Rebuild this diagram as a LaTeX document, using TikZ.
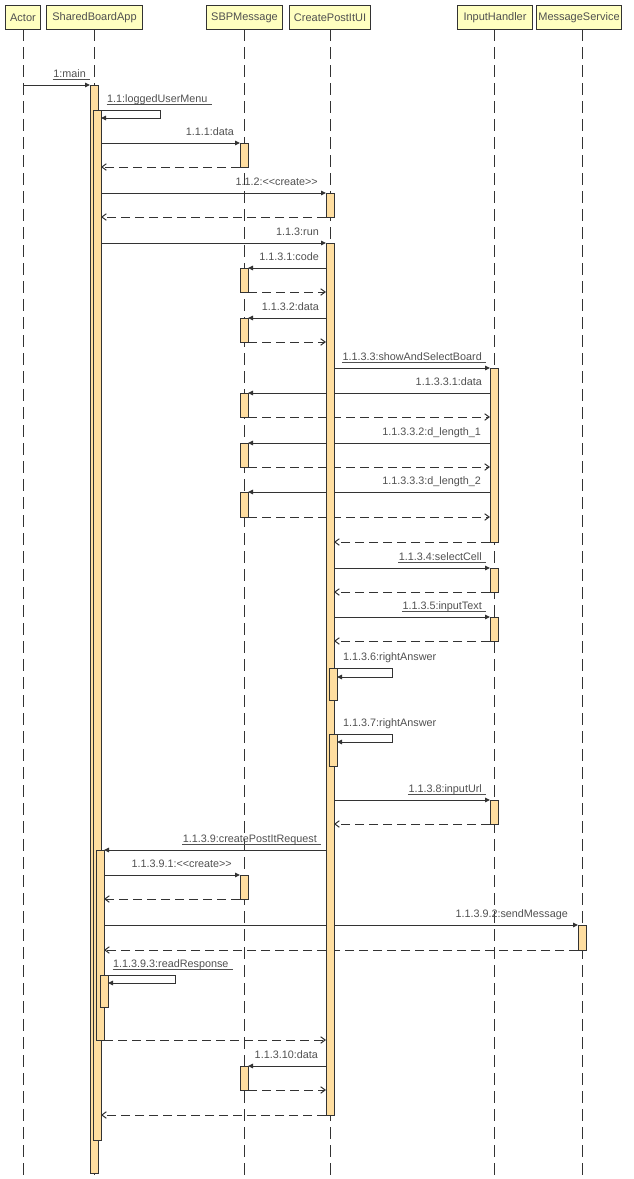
\documentclass[tikz,border=0pt]{standalone}
\usepackage{fontspec}
\setmainfont{Liberation Sans}
\usetikzlibrary{arrows.meta}
\definecolor{ln}{RGB}{51,51,51}
\definecolor{txt}{RGB}{80,80,80}
\definecolor{hdr}{RGB}{255,255,192}
\definecolor{barf}{RGB}{255,222,160}
\newcommand{\crt}{\textless\kern0pt\textless create\textgreater\kern0pt\textgreater}
\begin{document}
\begin{tikzpicture}[x=1pt,y=-1pt,
  head/.style={draw=ln, fill=hdr, line width=1pt, inner sep=0pt, minimum height=24pt, anchor=north west, font=\fontsize{11}{13}\selectfont, text=txt},
  life/.style={draw=ln, line width=1pt, dash pattern=on 12pt off 6pt},
  bar/.style={draw=ln, fill=barf, line width=1pt, minimum width=8pt, inner sep=0pt, outer sep=0pt, anchor=north west},
  call/.style={draw=ln, line width=1pt, -{Triangle[length=5pt,width=4.5pt]}},
  ret/.style={draw=ln, line width=1pt, dash pattern=on 9pt off 5pt, -{Straight Barb[length=4.5pt,width=6.5pt]}},
  lbl/.style={inner sep=0pt, text=txt, font=\fontsize{10.8}{13}\selectfont},
  uline/.style={draw=txt, line width=0.9pt}
]
\useasboundingbox (0,0) rectangle (634,1179);
% headers
\node[head, minimum width=35pt] (actor) at (5,5) {Actor};
\node[head, minimum width=96pt] (app) at (46,5) {SharedBoardApp};
\node[head, minimum width=76pt] (sbp) at (206,5) {SBPMessage};
\node[head, minimum width=81pt] (ui) at (289,5) {CreatePostItUI};
\node[head, minimum width=75pt] (ih) at (457,5) {InputHandler};
\node[head, minimum width=85pt] (ms) at (536,5) {MessageService};
% lifelines
\coordinate (La) at (23,29);
\coordinate (Lb) at (94,29);
\coordinate (Lc) at (244,29);
\coordinate (Ld) at (330,29);
\coordinate (Le) at (494,29);
\coordinate (Lf) at (582,29);
\coordinate (Bot) at (0,1175);
\foreach \l in {La,Lb,Lc,Ld,Le,Lf} \draw[life] (\l) -- (\l |- Bot);
% activation bars (placed first as coordinates, drawn later)
\path
  node[bar, minimum height=1088pt] (a0) at (90,85) {}
  node[bar, minimum height=1030pt] (a1) at (93,110) {}
  node[bar, minimum height=190pt] (a2) at (96,850) {}
  node[bar, minimum height=32pt] (a3) at (100,975) {}
  node[bar, minimum height=24pt] (s1) at (240,143) {}
  node[bar, minimum height=24pt] (s2) at (240,268) {}
  node[bar, minimum height=24pt] (s3) at (240,318) {}
  node[bar, minimum height=24pt] (s4) at (240,393) {}
  node[bar, minimum height=24pt] (s5) at (240,443) {}
  node[bar, minimum height=25pt] (s6) at (240,492) {}
  node[bar, minimum height=24pt] (s7) at (240,875) {}
  node[bar, minimum height=24pt] (s8) at (240,1066) {}
  node[bar, minimum height=24pt] (u1) at (326,193) {}
  node[bar, minimum height=872pt] (u2) at (326,243) {}
  node[bar, minimum height=32pt] (u3) at (329,668) {}
  node[bar, minimum height=32pt] (u4) at (329,734) {}
  node[bar, minimum height=174pt] (h1) at (490,368) {}
  node[bar, minimum height=24pt] (h2) at (490,568) {}
  node[bar, minimum height=24pt] (h3) at (490,617) {}
  node[bar, minimum height=24pt] (h4) at (490,800) {}
  node[bar, minimum height=25pt] (m1) at (578,925) {};
% messages
\draw[call] (La |- a0.north west) -- (a0.north west);
\draw[call] (a1.north east) -- (160,110) -- (160,118) -- (a1.east |- 0,118);
\draw[call] (a1.east |- s1.north) -- (s1.north west);
\draw[ret] (s1.south west) -- (a1.east |- s1.south);
\draw[call] (a1.east |- u1.north) -- (u1.north west);
\draw[ret] (u1.south west) -- (a1.east |- u1.south);
\draw[call] (a1.east |- u2.north) -- (u2.north west);
\draw[call] (u2.west |- s2.north) -- (s2.north east);
\draw[ret] (s2.south east) -- (u2.west |- s2.south);
\draw[call] (u2.west |- s3.north) -- (s3.north east);
\draw[ret] (s3.south east) -- (u2.west |- s3.south);
\draw[call] (u2.east |- h1.north) -- (h1.north west);
\draw[call] (h1.west |- s4.north) -- (s4.north east);
\draw[ret] (s4.south east) -- (h1.west |- s4.south);
\draw[call] (h1.west |- s5.north) -- (s5.north east);
\draw[ret] (s5.south east) -- (h1.west |- s5.south);
\draw[call] (h1.west |- s6.north) -- (s6.north east);
\draw[ret] (s6.south east) -- (h1.west |- s6.south);
\draw[ret] (h1.south west) -- (u2.east |- h1.south);
\draw[call] (u2.east |- h2.north) -- (h2.north west);
\draw[ret] (h2.south west) -- (u2.east |- h2.south);
\draw[call] (u2.east |- h3.north) -- (h3.north west);
\draw[ret] (h3.south west) -- (u2.east |- h3.south);
\draw[call] (u3.north east) -- (392,668) -- (392,677) -- (u3.east |- 0,677);
\draw[call] (u4.north east) -- (392,734) -- (392,742) -- (u4.east |- 0,742);
\draw[call] (u2.east |- h4.north) -- (h4.north west);
\draw[ret] (h4.south west) -- (u2.east |- h4.south);
\draw[call] (u2.west |- a2.north) -- (a2.north east);
\draw[call] (a2.east |- s7.north) -- (s7.north west);
\draw[ret] (s7.south west) -- (a2.east |- s7.south);
\draw[call] (a2.east |- m1.north) -- (m1.north west);
\draw[ret] (m1.south west) -- (a2.east |- m1.south);
\draw[call] (a3.north east) -- (175,975) -- (175,983) -- (a3.east |- 0,983);
\draw[ret] (a2.south east) -- (u2.west |- a2.south);
\draw[call] (u2.west |- s8.north) -- (s8.north east);
\draw[ret] (s8.south east) -- (u2.west |- s8.south);
\draw[ret] (u2.south west) -- (a1.east |- u2.south);
% bars drawn on top
\foreach \b in {a0,a1,a2,a3,s1,s2,s3,s4,s5,s6,s7,s8,u1,u2,u3,u4,h1,h2,h3,h4,m1}
  \draw[draw=ln, fill=barf, line width=1pt] (\b.north west) rectangle (\b.south east);
% labels
\node[lbl, anchor=base east] (t1) at (86,77) {1:main};
\node[lbl, anchor=base west] (t2) at (107,102) {1.1:loggedUserMenu};
\node[lbl, anchor=base east] (t3) at (234,135) {1.1.1:data};
\node[lbl, anchor=base east] (t4) at (318,185) {1.1.2:\crt};
\node[lbl, anchor=base east] (t5) at (319,235) {1.1.3:run};
\node[lbl, anchor=base east] (t6) at (319,260) {1.1.3.1:code};
\node[lbl, anchor=base east] (t7) at (319,310) {1.1.3.2:data};
\node[lbl, anchor=base east] (t8) at (482,360) {1.1.3.3:showAndSelectBoard};
\node[lbl, anchor=base east] (t9) at (482,385) {1.1.3.3.1:data};
\node[lbl, anchor=base east] (t10) at (481,435) {1.1.3.3.2:d\_length\_1};
\node[lbl, anchor=base east] (t11) at (481,484) {1.1.3.3.3:d\_length\_2};
\node[lbl, anchor=base east] (t12) at (482,560) {1.1.3.4:selectCell};
\node[lbl, anchor=base east] (t13) at (482,609) {1.1.3.5:inputText};
\node[lbl, anchor=base west] (t14) at (343,660) {1.1.3.6:rightAnswer};
\node[lbl, anchor=base west] (t15) at (343,726) {1.1.3.7:rightAnswer};
\node[lbl, anchor=base east] (t16) at (482,792) {1.1.3.8:inputUrl};
\node[lbl, anchor=base east] (t17) at (317,842) {1.1.3.9:createPostItRequest};
\node[lbl, anchor=base east] (t18) at (232,867) {1.1.3.9.1:\crt};
\node[lbl, anchor=base east] (t19) at (568,917) {1.1.3.9.2:sendMessage};
\node[lbl, anchor=base west] (t20) at (113,967) {1.1.3.9.3:readResponse};
\node[lbl, anchor=base east] (t21) at (318,1058) {1.1.3.10:data};
\foreach \t in {t1,t2,t8,t12,t13,t16,t17,t20}
  \draw[uline] ([xshift=-0.5pt,yshift=-2.5pt]\t.base west) -- ([xshift=4pt,yshift=-2.5pt]\t.base east);
\end{tikzpicture}
\end{document}
